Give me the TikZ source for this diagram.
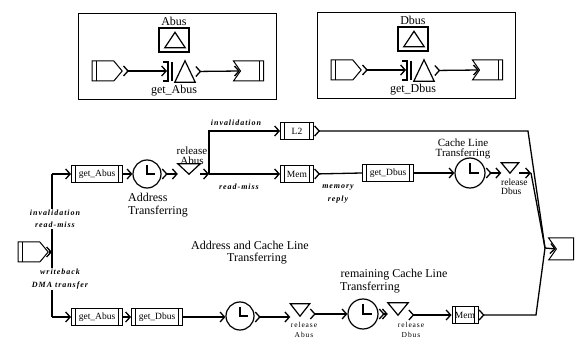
\documentclass[tikz,border=0pt]{standalone}
\usepackage{fontspec}
\setmainfont{Liberation Serif}
\newfontfamily\spc[LetterSpace=12]{Liberation Serif}
\usetikzlibrary{shapes.symbols,arrows.meta,calc}

\tikzset{
  ln/.style={line width=1.3pt},
  arc/.style={ln,-{Straight Barb[length=4.5pt,width=10pt]}},
  arc2/.style={ln,{Straight Barb[length=4.5pt,width=10pt,reversed]}-{Straight Barb[length=4.5pt,width=10pt]}},
  ostart/.style={ln,{Straight Barb[length=4.5pt,width=10pt,reversed]}-},
  plc/.style={draw,line width=1pt,minimum height=17pt,inner sep=0pt,
    font=\fontsize{9.5}{10}\selectfont,
    path picture={
      \draw[line width=0.9pt] ([xshift=3.5pt]path picture bounding box.north west) -- ([xshift=3.5pt]path picture bounding box.south west);
      \draw[line width=0.9pt] ([xshift=-4pt]path picture bounding box.north east) -- ([xshift=-4pt]path picture bounding box.south east);}},
  clk/.style={draw,circle,line width=1.2pt,inner sep=0pt,minimum size=#1,
    path picture={\draw[line width=1.2pt] ([yshift=0.33*#1]path picture bounding box.center) -- (path picture bounding box.center) -- ([xshift=0.3*#1]path picture bounding box.center);}},
  srcbox/.style={draw,signal,signal to=east,signal from=nowhere,signal pointer angle=100,
    line width=1pt,minimum width=30pt,minimum height=20pt,inner sep=0pt,
    path picture={\draw[line width=0.9pt] ([xshift=4pt]path picture bounding box.north west) -- ([xshift=4pt]path picture bounding box.south west);}},
  dstbox/.style={draw,signal,signal from=west,signal to=nowhere,signal pointer angle=110,
    line width=1pt,minimum width=30pt,minimum height=20pt,inner sep=0pt},
  dstbar/.style={dstbox,
    path picture={\draw[line width=0.9pt] ([xshift=-4pt]path picture bounding box.north east) -- ([xshift=-4pt]path picture bounding box.south east);}},
  trinode/.style={inner sep=0pt},
  bigtxt/.style={font=\fontsize{12}{13.5}\selectfont,align=center,inner sep=0pt},
  midtxt/.style={font=\fontsize{11}{10}\selectfont,align=center,inner sep=0pt},
  smalltxt/.style={font=\spc\fontsize{7.5}{10}\selectfont,align=center,inner sep=0pt},
  itl/.style={font=\spc\bfseries\itshape\fontsize{8}{12.5}\selectfont,align=center,inner sep=1pt},
}
\newcommand\trid[1]{\draw[line width=1.2pt] (#1.north west) -- (#1.north east) -- (#1.south) -- cycle;}
\newcommand\triu[1]{\draw[line width=1.2pt] (#1.south west) -- (#1.south east) -- (#1.north) -- cycle;}
\newcommand\busbox[3]{%
  \node[draw,line width=1pt,minimum width=198pt,minimum height=86pt,inner sep=0pt] (#1frame) at (177,57) {};
  \node[font=\fontsize{12}{12}\selectfont,inner sep=0pt] (#1name) at (174,21) {#2};
  \node[draw,line width=1.2pt,minimum width=30pt,minimum height=24pt,inner sep=0pt] (#1sq) at (174,40) {};
  \node[trinode,minimum width=20pt,minimum height=15pt] (#1sqtri) at (175,40) {};
  \triu{#1sqtri}
  \node[srcbox] (#1src) at (103,71) {};
  \coordinate (#1brk) at (167,71);
  \draw[line width=1.1pt] (163,62) -- (168,62) -- (168,81) -- (163,81);
  \draw[line width=1.1pt] (172,62) -- (172,81);
  \node[trinode,minimum width=20pt,minimum height=21pt] (#1tri) at (185,71.5) {};
  \triu{#1tri}
  \node[font=\fontsize{12}{12}\selectfont,inner sep=0pt] (#1get) at (174,91) {#3};
  \node[dstbar] (#1dst) at (252,71) {};
  \draw[arc2] (#1src.east) -- (#1brk);
  \draw[arc2] (#1tri.east) -- (#1dst.west);
}

\begin{document}
\begin{tikzpicture}[x=1pt,y=-1pt]
\useasboundingbox (0,0) rectangle (579,339);

% ---- top boxes ----
\busbox{a}{Abus}{get\_Abus}
\begin{scope}[shift={(239,-1)}]
\busbox{d}{Dbus}{get\_Dbus}
\end{scope}

% ---- main net ----
\node[srcbox] (src) at (29,252) {};
\coordinate (trT) at (52,174);
\coordinate (trM) at (52,252);
\coordinate (trB) at (52,317);
\draw[ln] (trT) -- (trB);
\draw[arc] (src.east) -- (trM);
\node[itl,fill=white] (lab1) at (55,219) {invalidation\\read-miss};
\node[itl,fill=white] (lab2) at (60,279) {writeback\\DMA transfer};

% upper row
\node[plc,minimum width=51pt] (gA1) at (97,174) {get\_Abus};
\node[clk=28pt] (clk1) at (147,174) {};
\node[trinode,minimum width=22pt,minimum height=10pt] (relA1) at (189,169) {};
\trid{relA1}
\node[midtxt] (relA1l) at (192,156) {release\\Abus};
\node[bigtxt,align=left,anchor=west] (clk1l) at (128,205) {Address\\Transferring};
\coordinate (split) at (209,174);
\node[plc,minimum width=33pt] (L2) at (297,131) {L2};
\node[plc,minimum width=33pt] (mem1) at (297,174) {Mem};
\node[itl] (inv) at (236,123) {invalidation};
\node[itl] (rm) at (239,187) {read-miss};
\node[itl] (memr) at (338,194) {memory\\reply};
\node[plc,minimum width=51pt] (gD1) at (388,173) {get\_Dbus};
\node[clk=30pt] (clk2) at (470,173) {};
\node[midtxt] (clk2l) at (463,149) {Cache Line\\Transferring};
\node[trinode,minimum width=17pt,minimum height=10pt] (relD1) at (510,168) {};
\trid{relD1}
\node[font=\fontsize{9.5}{9}\selectfont,align=left,anchor=west,inner sep=0pt] (relD1l) at (501,187) {release\\Dbus};

\draw[arc] (trT) -- (gA1.west);
\draw[arc] (gA1.east) -- (clk1.west);
\draw[arc2] (clk1.east) -- (clk1.east -| relA1.west);
\draw[arc] (relA1.east |- split) -- (split);
\draw[arc] (split) |- (L2.west);
\draw[arc] (split) -- (mem1.west);
\draw[ostart] (mem1.east) -- (gD1.west);
\draw[arc] (gD1.east) -- (clk2.west);
\draw[arc2] (clk2.east) -- (clk2.east -| relD1.west);
\coordinate (c1) at (528,131);
\coordinate (c2) at (531,173);
\coordinate (join) at (545,248);
\draw[arc] (relD1.east |- c2) -- (c2);
\draw[ln] (c2) -- (join);
\draw[ostart] (L2.east) -- (c1) -- (join);

% lower row
\node[plc,minimum width=51pt] (gA2) at (97,317) {get\_Abus};
\node[plc,minimum width=51pt] (gD2) at (157,317) {get\_Dbus};
\node[clk=28pt] (clk3) at (240,316) {};
\node[bigtxt] (clk3a) at (250,245) {Address and Cache Line};
\node[bigtxt] (clk3b) at (257,259) {Transferring};
\node[trinode,minimum width=19pt,minimum height=12pt] (relA2) at (300,310) {};
\trid{relA2}
\node[smalltxt] (relA2l) at (304,330) {release\\Abus};
\node[clk=30pt] (clk4) at (363,314) {};
\node[bigtxt] (clk4a) at (394,275) {remaining Cache Line};
\node[bigtxt] (clk4b) at (370,288) {Transferring};
\node[trinode,minimum width=20pt,minimum height=12pt] (relD2) at (398,309) {};
\trid{relD2}
\node[smalltxt] (relD2l) at (411,330) {release\\Dbus};
\node[plc,minimum width=26pt] (mem2) at (465,315) {Mem};
\node[dstbox,minimum width=25pt,minimum height=22pt] (dst) at (565,249) {};

\draw[arc] (trB) -- (gA2.west);
\draw[arc] (gA2.east) -- (gD2.west);
\draw[arc] (gD2.east) -- (gD2.east -| clk3.west);
\draw[arc2] (clk3.east |- gD2) -- (gD2 -| relA2.west);
\draw[arc2] (relA2.east |- clk4) -- (clk4.west);
\draw[arc2] (clk4.east) -- (clk4 -| relD2.west);
\draw[arc2] (relD2.east |- mem2) -- (mem2.west);
\coordinate (c3) at (536,315);
\draw[ostart] (mem2.east) -- (c3) -- (join);
\draw[arc] (join) -- (dst.west);
\end{tikzpicture}
\end{document}
